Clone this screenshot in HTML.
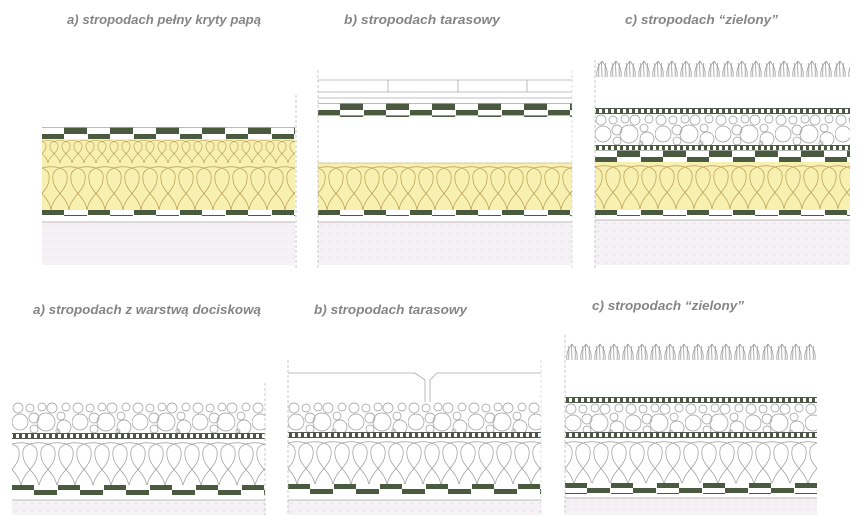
<!DOCTYPE html>
<html><head><meta charset="utf-8"><style>
html,body{margin:0;padding:0;background:#fff;width:866px;height:515px;overflow:hidden}
svg{display:block}
text{font-family:"Liberation Sans",sans-serif;font-style:italic;font-weight:bold;font-size:13px;fill:#858585}
</style></head><body>
<svg width="866" height="515" viewBox="0 0 866 515" xmlns="http://www.w3.org/2000/svg">
<defs>
 <pattern id="chk" width="46" height="12" patternUnits="userSpaceOnUse">
  <rect width="46" height="12" fill="#fff"/>
  <rect x="22" y="0" width="23" height="7" fill="#4a5a3e"/>
  <rect x="0" y="7" width="22" height="5" fill="#4a5a3e"/>
  <rect x="0" y="0" width="46" height="0.8" fill="#aaa"/>
 </pattern>
 <pattern id="chk2" width="46" height="10" patternUnits="userSpaceOnUse">
  <rect width="46" height="10" fill="#fff"/>
  <rect x="0" y="0" width="22" height="5" fill="#4a5a3e"/>
  <rect x="22" y="5" width="23" height="5" fill="#4a5a3e"/>
 </pattern>
 <path id="dropB" d="M0,47 C-2,32 -18,28 -16,12 C-15,1 15,1 16,12 C18,28 2,32 0,47" fill="none"/>
 <pattern id="wb" width="18" height="47" patternUnits="userSpaceOnUse">
  <rect width="18" height="47" fill="#f8f0b0"/>
  <g stroke="#b89a50" stroke-width="0.7"><use href="#dropB" x="-9"/><use href="#dropB" x="9"/><use href="#dropB" x="27"/></g>
 </pattern>
 <path id="dropS" d="M0,24 C-1,16 -11,14 -10,6 C-9,0 9,0 10,6 C11,14 1,16 0,24" fill="none"/>
 <pattern id="ws" width="12" height="24" patternUnits="userSpaceOnUse">
  <rect width="12" height="24" fill="#f8f0b0"/>
  <g stroke="#b89a50" stroke-width="0.6"><use href="#dropS" x="-6"/><use href="#dropS" x="6"/><use href="#dropS" x="18"/></g>
 </pattern>
 <pattern id="wg" width="18" height="46" patternUnits="userSpaceOnUse">
  <rect width="18" height="46" fill="#fff"/>
  <g stroke="#999" stroke-width="0.7"><use href="#dropB" x="-9"/><use href="#dropB" x="9"/><use href="#dropB" x="27"/></g>
 </pattern>
 <pattern id="strip" width="6" height="6" patternUnits="userSpaceOnUse">
  <rect width="6" height="6" fill="#fff"/>
  <rect x="0" y="0" width="6" height="1" fill="#555"/>
  <rect x="0" y="5" width="6" height="1" fill="#555"/>
  <rect x="1" y="1" width="3" height="4" fill="#4a5a3e"/>
 </pattern>
 <pattern id="grav" width="60" height="32" patternUnits="userSpaceOnUse">
  <rect width="60" height="32" fill="#fff"/>
  <g fill="none" stroke="#9a9a9a" stroke-width="0.7">
   <circle cx="8" cy="20" r="8"/><circle cx="6" cy="6" r="5"/><circle cx="18" cy="6" r="4"/>
   <circle cx="22" cy="16" r="5"/><circle cx="22" cy="27" r="4"/><circle cx="34" cy="20" r="9"/>
   <circle cx="30" cy="5" r="4"/><circle cx="40" cy="6" r="5"/><circle cx="49" cy="14" r="4"/>
   <circle cx="52" cy="25" r="7"/><circle cx="54" cy="5" r="4"/><circle cx="46" cy="29" r="2"/>
  </g>
 </pattern>
 <pattern id="grass" width="14" height="20" patternUnits="userSpaceOnUse">
  <g fill="none" stroke="#9a9a9a" stroke-width="0.8">
   <path d="M2,18 C1,10 4,6 7,2 M7,18 C7,10 6,6 7,2 M12,18 C13,10 10,6 7,2 M4,18 C3,12 5,8 3,4 M10,18 C11,12 9,8 11,4"/>
  </g>
 </pattern>
 <pattern id="slab" width="8" height="8" patternUnits="userSpaceOnUse">
  <rect width="8" height="8" fill="#f6f1f4"/>
  <rect x="2" y="3" width="3" height="1" fill="#ece4ea"/>
 </pattern>
</defs>

<!-- labels -->
<text x="67" y="24" textLength="194" lengthAdjust="spacingAndGlyphs">a)   stropodach pełny kryty papą</text>
<text x="344" y="24" textLength="156" lengthAdjust="spacingAndGlyphs">b)   stropodach  tarasowy</text>
<text x="625" y="24" textLength="153" lengthAdjust="spacingAndGlyphs">c)   stropodach “zielony”</text>
<text x="33" y="314" textLength="228" lengthAdjust="spacingAndGlyphs">a)   stropodach z warstwą dociskową</text>
<text x="314" y="314" textLength="153" lengthAdjust="spacingAndGlyphs">b)   stropodach tarasowy</text>
<text x="592" y="310" textLength="152" lengthAdjust="spacingAndGlyphs">c)   stropodach “zielony”</text>

<!-- TOP A -->
<g transform="translate(42,0)">
 <g transform="translate(0,127)"><rect width="253" height="12" fill="url(#chk)"/></g>
 <g transform="translate(0,139)"><rect width="253" height="24" fill="url(#ws)"/></g>
 <g transform="translate(0,163)"><rect width="253" height="47" fill="url(#wb)"/></g>
 <g transform="translate(0,210)"><rect width="253" height="6" fill="url(#chk2)"/></g>
 <g transform="translate(0,222)"><rect width="253" height="43" fill="url(#slab)"/></g>
 <line x1="0" y1="222" x2="253" y2="222" stroke="#aaa" stroke-width="0.8"/>
</g>
<line x1="296" y1="95" x2="296" y2="268" stroke="#bbb" stroke-width="0.8" stroke-dasharray="3,2"/>

<!-- TOP B -->
<g>
 <line x1="318" y1="80" x2="572" y2="80" stroke="#aaa" stroke-width="0.8"/>
 <line x1="318" y1="92" x2="572" y2="92" stroke="#aaa" stroke-width="0.8"/>
 <line x1="318" y1="98" x2="572" y2="98" stroke="#aaa" stroke-width="0.8"/>
 <g stroke="#aaa" stroke-width="0.8"><line x1="388" y1="80" x2="388" y2="92"/><line x1="458" y1="80" x2="458" y2="92"/><line x1="527" y1="80" x2="527" y2="92"/></g>
 <g transform="translate(318,103)"><rect width="254" height="14" fill="url(#chk)"/></g>
 <g transform="translate(318,163)"><rect width="254" height="47" fill="url(#wb)"/></g>
 <line x1="318" y1="163" x2="572" y2="163" stroke="#b89a50" stroke-width="0.6"/>
 <g transform="translate(318,210)"><rect width="254" height="6" fill="url(#chk2)"/></g>
 <g transform="translate(318,222)"><rect width="254" height="43" fill="url(#slab)"/></g>
 <line x1="318" y1="222" x2="572" y2="222" stroke="#aaa" stroke-width="0.8"/>
 <line x1="318" y1="70" x2="318" y2="268" stroke="#bbb" stroke-width="0.8" stroke-dasharray="3,2"/>
 <line x1="572" y1="70" x2="572" y2="268" stroke="#ccc" stroke-width="0.6" stroke-dasharray="3,2"/>
</g>

<!-- TOP C -->
<g>
 <g transform="translate(595,59)"><rect width="255" height="20" fill="url(#grass)"/></g>
 <g transform="translate(595,108)"><rect width="255" height="6" fill="url(#strip)"/></g>
 <g transform="translate(595,114)"><rect width="255" height="31" fill="url(#grav)"/></g>
 <g transform="translate(595,145)"><rect width="255" height="6" fill="url(#strip)"/></g>
 <g transform="translate(595,150)"><rect width="255" height="12" fill="url(#chk)"/></g>
 <g transform="translate(595,162)"><rect width="255" height="48" fill="url(#wb)"/></g>
 <g transform="translate(595,210)"><rect width="255" height="6" fill="url(#chk2)"/></g>
 <g transform="translate(595,220)"><rect width="255" height="45" fill="url(#slab)"/></g>
 <line x1="595" y1="220" x2="850" y2="220" stroke="#aaa" stroke-width="0.8"/>
 <line x1="595" y1="60" x2="595" y2="268" stroke="#bbb" stroke-width="0.8" stroke-dasharray="3,2"/>
</g>

<!-- BOTTOM A -->
<g>
 <g transform="translate(12,402)"><rect width="253" height="31" fill="url(#grav)"/></g>
 <g transform="translate(12,433)"><rect width="253" height="6" fill="url(#strip)"/></g>
 <g transform="translate(12,439)"><rect width="253" height="46" fill="url(#wg)"/></g>
 <g transform="translate(12,485)"><rect width="253" height="10" fill="url(#chk2)"/></g>
 <g transform="translate(12,500)"><rect width="253" height="15" fill="url(#slab)"/></g>
 <line x1="12" y1="500" x2="265" y2="500" stroke="#aaa" stroke-width="0.8"/>
 <line x1="265" y1="383" x2="265" y2="515" stroke="#bbb" stroke-width="0.8" stroke-dasharray="3,2"/>
</g>

<!-- BOTTOM B -->
<g>
 <path d="M288,373 H415 L425,380 V402 M541,373 H437 L430,380 V402" fill="none" stroke="#aaa" stroke-width="0.8"/>
 <g transform="translate(288,402)"><rect width="253" height="30" fill="url(#grav)"/></g>
 <g transform="translate(288,432)"><rect width="253" height="6" fill="url(#strip)"/></g>
 <g transform="translate(288,438)"><rect width="253" height="46" fill="url(#wg)"/></g>
 <g transform="translate(288,484)"><rect width="253" height="10" fill="url(#chk2)"/></g>
 <g transform="translate(288,500)"><rect width="253" height="15" fill="url(#slab)"/></g>
 <line x1="288" y1="500" x2="541" y2="500" stroke="#aaa" stroke-width="0.8"/>
 <line x1="288" y1="360" x2="288" y2="515" stroke="#bbb" stroke-width="0.8" stroke-dasharray="3,2"/>
 <line x1="541" y1="360" x2="541" y2="515" stroke="#ccc" stroke-width="0.6" stroke-dasharray="3,2"/>
</g>

<!-- BOTTOM C -->
<g>
 <g transform="translate(565,342)"><rect width="252" height="20" fill="url(#grass)"/></g>
 <g transform="translate(565,397)"><rect width="252" height="6" fill="url(#strip)"/></g>
 <g transform="translate(565,403)"><rect width="252" height="29" fill="url(#grav)"/></g>
 <g transform="translate(565,432)"><rect width="252" height="6" fill="url(#strip)"/></g>
 <g transform="translate(565,438)"><rect width="252" height="45" fill="url(#wg)"/></g>
 <g transform="translate(565,483)"><rect width="252" height="11" fill="url(#chk2)"/></g>
 <g transform="translate(565,498)"><rect width="252" height="17" fill="url(#slab)"/></g>
 <line x1="565" y1="498" x2="817" y2="498" stroke="#aaa" stroke-width="0.8"/>
 <line x1="565" y1="335" x2="565" y2="515" stroke="#bbb" stroke-width="0.8" stroke-dasharray="3,2"/>
</g>
</svg>
</body></html>
